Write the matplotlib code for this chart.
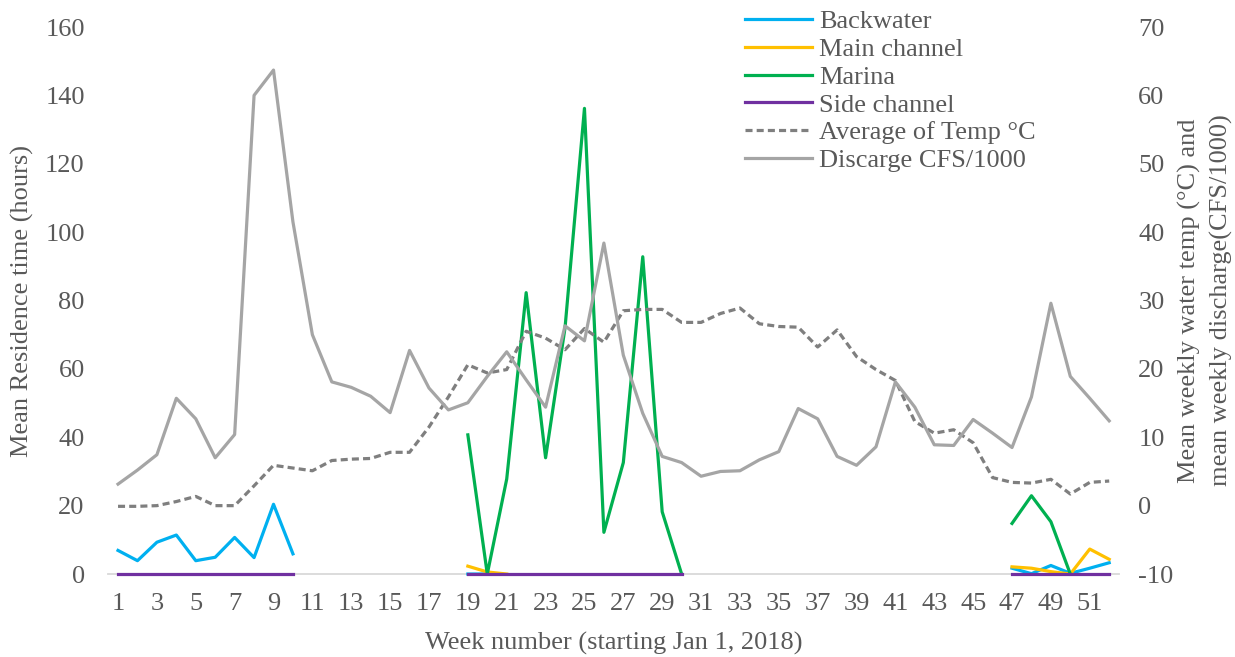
from matplotlib import pyplot as plt
import numpy as np

nan = np.nan
weeks = list(range(1, 53))

# residence time (hours), left axis
backwater = [6.9, 3.9, 9.3, 11.4, 3.9, 4.9, 10.7, 4.8, 20.4, 5.9] + [nan] * 8 + [0, 0] + [nan] * 26 + [1.7, 0.1, 2.5, 0.2, 1.7, 3.3]
main_channel = [nan] * 18 + [2.3, 0.6, 0] + [nan] * 25 + [2.1, 1.7, 0.7, 0, 7.3, 4.3]
marina = [nan] * 18 + [40.7, 0, 27.8, 82.3, 34.0, 72.0, 136.2, 12.2, 32.6, 92.8, 18.2, 0] + [nan] * 16 + [14.8, 22.9, 15.3, 0, nan, nan]
side_channel = [0] * 10 + [nan] * 8 + [0] * 12 + [nan] * 16 + [0] * 6

# right axis
temp = [-0.1, -0.1, 0.0, 0.6, 1.35, 0.0, 0.0, 2.9, 5.9, 5.5, 5.1, 6.6, 6.8, 6.9, 7.8, 7.8,
        11.5, 15.9, 20.6, 19.4, 19.9, 25.5, 24.5, 22.8, 25.9, 23.9, 28.5, 28.7, 28.7, 26.8,
        26.8, 28.1, 28.9, 26.6, 26.2, 26.1, 23.2, 25.7, 21.8, 19.9, 18.3, 12.3, 10.6, 11.1,
        9.2, 4.1, 3.4, 3.3, 3.85, 1.7, 3.4, 3.6]
discharge = [3.15, 5.2, 7.45, 15.7, 12.7, 7.0, 10.4, 60.0, 63.7, 41.5, 25.0, 18.1, 17.3, 16.0,
             13.6, 22.7, 17.2, 14.0, 15.05, 18.9, 22.5, 18.4, 14.4, 26.3, 24.1, 38.4, 22.0,
             13.5, 7.2, 6.3, 4.3, 5.0, 5.1, 6.7, 7.9, 14.2, 12.7, 7.2, 5.9, 8.6, 18.1, 14.4,
             8.9, 8.8, 12.6, 10.6, 8.5, 15.9, 29.6, 18.9, 15.7, 12.4]

txt = '#595959'
fs = 19
plt.rcParams['font.family'] = ['Liberation Serif', 'DejaVu Serif']
plt.rcParams['font.size'] = fs
plt.rcParams['axes.unicode_minus'] = False

fig = plt.figure(figsize=(12.35, 6.57), dpi=100)
ax = fig.add_axes([0.0877, 0.1263, 0.8183, 0.8326])
ax2 = ax.twinx()

lw = 2.3
ax.plot(weeks, backwater, color='#00B0F0', lw=lw, label='Backwater', clip_on=False)
ax.plot(weeks, main_channel, color='#FFC000', lw=lw, label='Main channel', clip_on=False)
ax.plot(weeks, marina, color='#00B050', lw=lw, label='Marina', clip_on=False)
ax.plot(weeks, side_channel, color='#7030A0', lw=lw, label='Side channel', clip_on=False)
ax2.plot(weeks, temp, color='#7F7F7F', lw=lw, dashes=(2.2, 1.3), label='Average of Temp °C')
ax2.plot(weeks, discharge, color='#A5A5A5', lw=lw, label='Discarge CFS/1000')

ax.set_xlim(0.5, 52.5)
ax.set_ylim(0, 160)
ax2.set_ylim(-10, 70)
ax.set_xticks(range(1, 53, 2))
ax.set_yticks(range(0, 161, 20))
ax2.set_yticks(range(-10, 71, 10))

for a in (ax, ax2):
    for s in a.spines.values():
        s.set_visible(False)
    a.tick_params(length=0, colors=txt, labelsize=fs)
ax.spines['bottom'].set_visible(True)
ax.spines['bottom'].set_color('#D9D9D9')
ax.spines['bottom'].set_linewidth(1.3)
ax.spines['bottom'].set_zorder(0)
ax.tick_params(axis='x', pad=14)
ax.tick_params(axis='y', pad=17)
ax2.tick_params(axis='y', pad=14)

ax.set_xlabel('Week number (starting Jan 1, 2018)', color=txt, fontsize=fs, labelpad=12)
ax.set_ylabel('Mean Residence time (hours)', color=txt, fontsize=fs, labelpad=8)
ax2.set_ylabel('Mean weekly water temp (°C) and\nmean weekly discharge(CFS/1000)', color=txt,
               fontsize=fs, labelpad=3, linespacing=1.5)

h1, l1 = ax.get_legend_handles_labels()
h2, l2 = ax2.get_legend_handles_labels()
leg = ax2.legend(h1 + h2, l1 + l2, loc='upper left', bbox_to_anchor=(745 / 1235, 1 - 10 / 657),
                 bbox_transform=fig.transFigure, frameon=False, handlelength=2.55,
                 handletextpad=0.25, labelspacing=0.16, borderpad=0, borderaxespad=0,
                 fontsize=fs)
for t in leg.get_texts():
    t.set_color(txt)

fig.savefig('out.png', dpi=100)
